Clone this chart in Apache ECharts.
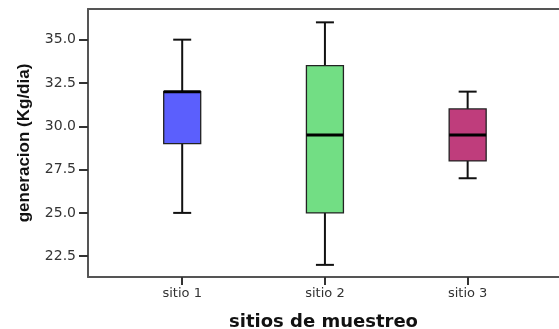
<!DOCTYPE html>
<html>
<head>
<meta charset="utf-8">
<script src="https://cdn.jsdelivr.net/npm/echarts@6/dist/echarts.min.js"></script>
<style>html,body{margin:0;padding:0;background:#fff;}#c{width:559px;height:329px;}</style>
</head>
<body>
<div id="c"></div>
<script>
var categories = ['sitio 1', 'sitio 2', 'sitio 3'];
var positions = [1, 2, 3];
var whiskerLow = [25, 22, 27];
var q1 = [29, 25, 28];
var median = [32, 29.5, 29.5];
var q3 = [32, 33.5, 31];
var whiskerHigh = [35, 36, 32];
var boxColors = ['#5b5ffd', '#72de84', '#bf3d7c'];
var yTicks = [22.5, 25, 27.5, 30, 32.5, 35];

var data = positions.map(function (p, i) {
  return [p, whiskerLow[i], q1[i], median[i], q3[i], whiskerHigh[i]];
});

function renderItem(params, api) {
  var x = api.value(0);
  var pLow = api.coord([x, api.value(1)]);
  var pQ1 = api.coord([x, api.value(2)]);
  var pMed = api.coord([x, api.value(3)]);
  var pQ3 = api.coord([x, api.value(4)]);
  var pHigh = api.coord([x, api.value(5)]);
  var cx = pLow[0];
  var half = 18.5, capHalf = 9;
  var lineStyle = { stroke: '#111', lineWidth: 2 };
  return {
    type: 'group',
    children: [
      { type: 'line', shape: { x1: cx, y1: pHigh[1], x2: cx, y2: pQ3[1] }, style: lineStyle },
      { type: 'line', shape: { x1: cx, y1: pQ1[1], x2: cx, y2: pLow[1] }, style: lineStyle },
      { type: 'line', shape: { x1: cx - capHalf, y1: pHigh[1], x2: cx + capHalf, y2: pHigh[1] }, style: lineStyle },
      { type: 'line', shape: { x1: cx - capHalf, y1: pLow[1], x2: cx + capHalf, y2: pLow[1] }, style: lineStyle },
      { type: 'rect', shape: { x: cx - half, y: pQ3[1], width: half * 2, height: pQ1[1] - pQ3[1] },
        style: { fill: boxColors[params.dataIndex], stroke: '#222', lineWidth: 1.3 } },
      { type: 'line', shape: { x1: cx - half, y1: pMed[1], x2: cx + half, y2: pMed[1] },
        style: { stroke: '#000', lineWidth: 3 } }
    ]
  };
}

var chart = echarts.init(document.getElementById('c'), null, { renderer: 'canvas' });
chart.setOption({
  animation: false,
  backgroundColor: '#fff',
  grid: { left: 88, right: 0, top: 9, bottom: 52, outerBoundsMode: 'none', containLabel: false },
  xAxis: [{
    type: 'value',
    min: 0.34,
    max: 3.64,
    name: 'sitios de muestreo',
    nameLocation: 'middle',
    nameGap: 36,
    nameTextStyle: { fontFamily: 'DejaVu Sans', fontWeight: 'bold', fontSize: 18, color: '#111' },
    axisLine: { show: true, onZero: false, lineStyle: { color: '#555', width: 2 } },
    axisTick: { show: true, length: 8, customValues: positions, lineStyle: { color: '#333', width: 2 } },
    axisLabel: {
      customValues: positions,
      margin: 10,
      fontFamily: 'DejaVu Sans', fontSize: 13, color: '#333',
      formatter: function (v) { var i = positions.indexOf(v); return i >= 0 ? categories[i] : ''; }
    },
    splitLine: { show: false }
  }, {
    type: 'value',
    position: 'top',
    min: 0.34,
    max: 3.64,
    axisLine: { show: true, onZero: false, lineStyle: { color: '#555', width: 2 } },
    axisTick: { show: false },
    axisLabel: { show: false },
    splitLine: { show: false }
  }],
  yAxis: {
    type: 'value',
    min: 21.3,
    max: 36.77,
    name: 'generacion (Kg/dia)',
    nameLocation: 'middle',
    nameGap: 55,
    nameTextStyle: { fontFamily: 'Liberation Sans', fontWeight: 'bold', fontSize: 17, color: '#111' },
    axisLine: { show: true, onZero: false, lineStyle: { color: '#555', width: 2 } },
    axisTick: { show: true, length: 9, customValues: yTicks, lineStyle: { color: '#333', width: 2 } },
    axisLabel: {
      customValues: yTicks,
      margin: 12,
      fontFamily: 'DejaVu Sans', fontSize: 14, color: '#333',
      formatter: function (v) { return v.toFixed(1); }
    },
    splitLine: { show: false }
  },
  series: [{
    type: 'custom',
    renderItem: renderItem,
    encode: { x: 0, y: [1, 2, 3, 4, 5] },
    data: data,
    clip: false
  }]
});
</script>
</body>
</html>
